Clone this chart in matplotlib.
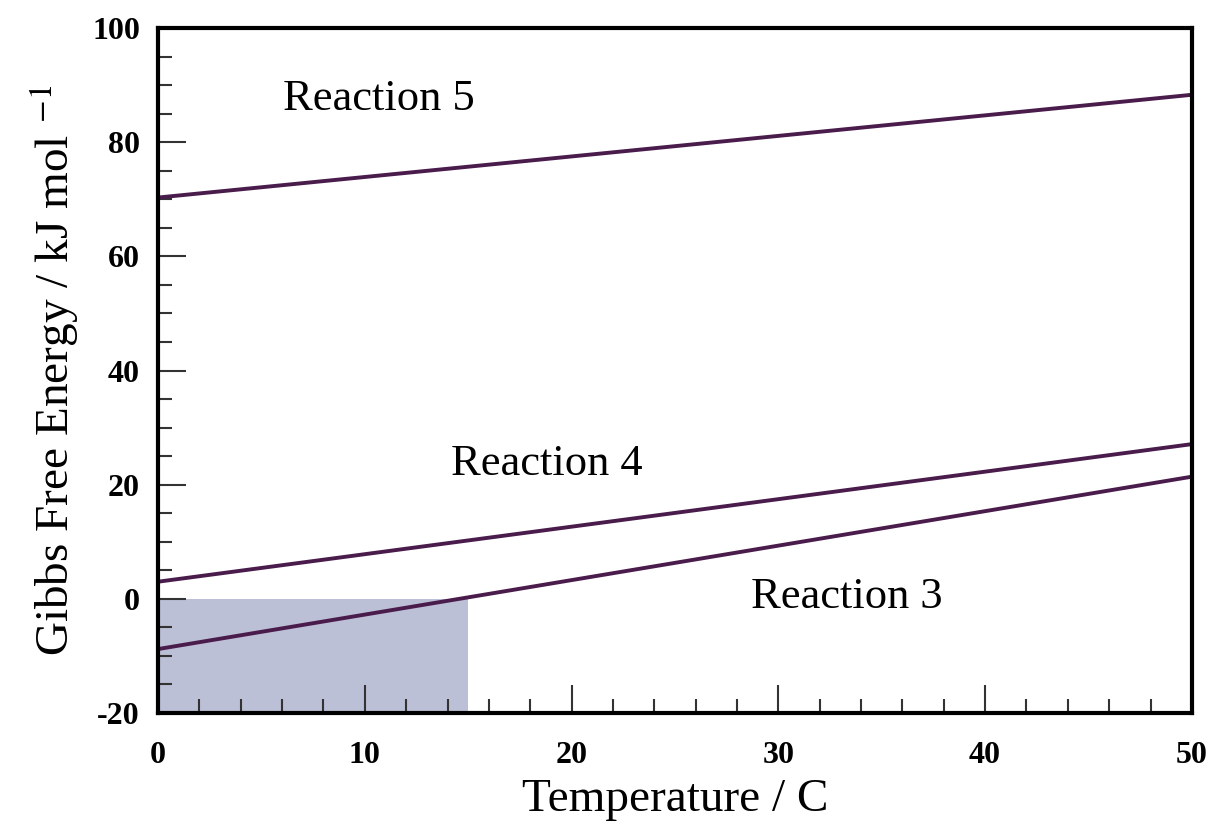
import matplotlib
matplotlib.use("Agg")
import matplotlib.pyplot as plt
from matplotlib.ticker import MultipleLocator

# temperature range (C) and Gibbs free energy at the ends (kJ/mol)
temperature = [0, 50]
reaction_3 = [-8.8, 21.4]
reaction_4 = [3.0, 27.1]
reaction_5 = [70.3, 88.3]

# region where reaction 3 is spontaneous
shade_x = [0, 15]
shade_y = [-20, 0]

x_ticks = [0, 10, 20, 30, 40, 50]
y_ticks = [-20, 0, 20, 40, 60, 80, 100]

plt.rcParams["font.family"] = ["Liberation Serif", "DejaVu Serif"]
plt.rcParams["mathtext.fontset"] = "stix"
plt.rcParams["axes.unicode_minus"] = False

fig = plt.figure(figsize=(12.12, 8.31), dpi=100)
ax = fig.add_axes([0.1304, 0.142, 0.853, 0.8243])

line_color = "#4a1c4c"
ax.fill_between(shade_x, shade_y[0], shade_y[1], color="#bcc0d6", lw=0, zorder=1)
for y in (reaction_3, reaction_4, reaction_5):
    ax.plot(temperature, y, color=line_color, lw=2.8, zorder=2)

ax.text(10.7, 87.6, "Reaction 5", fontsize=32, ha="center", va="center")
ax.text(18.8, 23.6, "Reaction 4", fontsize=32, ha="center", va="center")
ax.text(33.3, 0.3, "Reaction 3", fontsize=32, ha="center", va="center")

ax.set_xlim(0, 50)
ax.set_ylim(-20, 100)
ax.set_xticks(x_ticks)
ax.set_yticks(y_ticks)
ax.xaxis.set_minor_locator(MultipleLocator(2))
ax.yaxis.set_minor_locator(MultipleLocator(5))
ax.tick_params(which="both", direction="in", top=False, right=False,
               labelsize=23, width=1.5, color="#333333")
ax.tick_params(which="major", length=20)
ax.tick_params(which="minor", length=10)
ax.tick_params(axis="x", which="major", pad=20)
ax.tick_params(axis="y", which="major", pad=13)
for lab in ax.get_xticklabels() + ax.get_yticklabels():
    lab.set_fontweight("bold")
for s in ax.spines.values():
    s.set_linewidth(3)

ax.set_xlabel("Temperature / C", fontsize=34, labelpad=6)
ax.set_ylabel("Gibbs Free Energy / kJ mol $^{\\mathrm{-1}}$", fontsize=34, labelpad=8)

plt.savefig("out.png", dpi=100)
